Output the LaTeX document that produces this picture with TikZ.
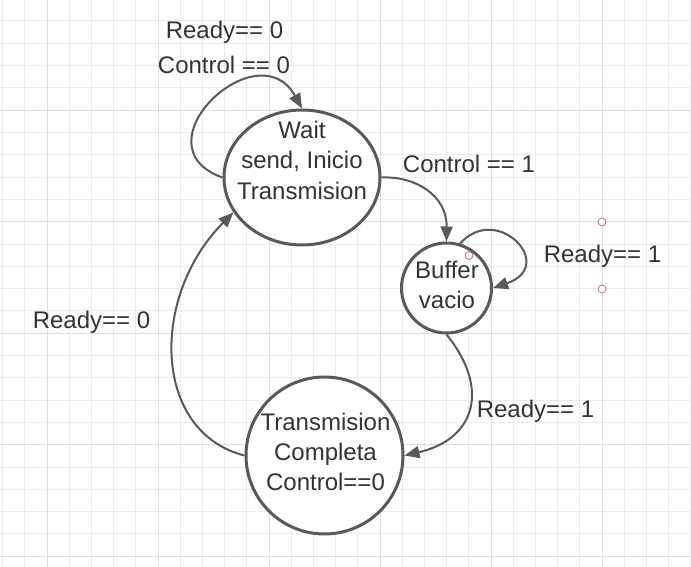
\documentclass[tikz,border=0pt]{standalone}
\usepackage{fontspec}
\setmainfont{Liberation Sans}
\usetikzlibrary{arrows.meta,shapes.geometric}
\definecolor{gridminor}{HTML}{EBEBEB}
\definecolor{gridmajor}{HTML}{DEDEDE}
\definecolor{ink}{HTML}{333333}
\definecolor{edgecol}{HTML}{595959}
\definecolor{handlecol}{HTML}{D0607A}
\begin{document}
\begin{tikzpicture}[x=1pt,y=-1pt,
  statebox/.style={draw=edgecol, line width=3pt, fill=white, inner sep=0pt},
  txt/.style={text=ink, font=\fontsize{24}{30}\selectfont, inner sep=0pt, align=center},
  conn/.style={draw=edgecol, line width=2pt, -{Triangle[length=15pt,width=12pt]}},
  handlept/.style={circle, draw=handlecol, fill=white, line width=0.8pt, minimum size=8pt, inner sep=0pt}]
\useasboundingbox (0,0) rectangle (691,567);
\fill[white] (0,0) rectangle (691,567);
% grid
\foreach \i in {0,...,31} {\draw[gridminor, line width=1pt] ({2.6+22.2*\i},0) -- ({2.6+22.2*\i},567);}
\foreach \j in {0,...,26} {\draw[gridminor, line width=1pt] (0,{-1.3+22.3*\j}) -- (691,{-1.3+22.3*\j});}
\foreach \i in {0,...,5} {\draw[gridmajor, line width=1pt] ({47+111*\i},0) -- ({47+111*\i},567);}
\foreach \j in {1,...,5} {\draw[gridmajor, line width=1pt] (0,{-1.3+111.5*\j}) -- (691,{-1.3+111.5*\j});}
% states
\node[statebox, ellipse, minimum width=156pt, minimum height=135pt] (wait) at (302,177.5) {};
\node[statebox, circle, minimum size=90pt] (buffer) at (446.5,288) {};
\node[statebox, circle, minimum size=157pt] (trans) at (324.5,455.5) {};
\node[txt, anchor=base] (waittxt) at (302,199) {Wait\\send, Inicio\\Transmision};
\node[txt, anchor=base] (buffertxt) at (447,308) {Buffer\\vacio};
\node[txt, anchor=base] (transtxt) at (325.5,490) {Transmision\\Completa\\Control==0};
% connectors
\draw[conn] (wait.west) .. controls (134,146) and (258,29) .. (wait.north);
\draw[conn] (wait.east) .. controls (415,176) and (447,195) .. (buffer.north);
\draw[conn] (buffer.73) .. controls (497,202) and (558,266) .. (buffer.east);
\draw[conn] (buffer.south) .. controls (490,388) and (476,439) .. (trans.east);
\draw[conn] (trans.west) .. controls (152,432) and (150,296) .. (wait.207);
% labels
\node[txt, anchor=base] (l1) at (224.5,39) {Ready== 0};
\node[txt, anchor=base] (l2) at (224,74) {Control == 0};
\node[txt, anchor=base] (l3) at (469,173) {Control == 1};
\node[txt, anchor=base] (l4) at (602.5,262) {Ready== 1};
\node[txt, anchor=base] (l5) at (91.5,328) {Ready== 0};
\node[txt, anchor=base] (l6) at (535.5,417) {Ready== 1};
% selection handles
\node[handlept] (h1) at (602,222) {};
\node[handlept] (h2) at (602,289) {};
\node[handlept] (h3) at (469,255.5) {};
\end{tikzpicture}
\end{document}
